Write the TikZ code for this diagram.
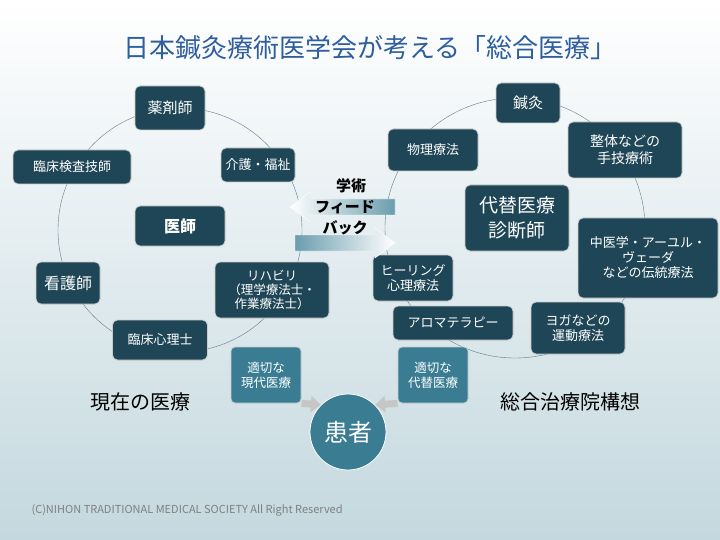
\documentclass[tikz,border=0pt]{standalone}
\usepackage{fontspec}
\setmainfont{Noto Sans CJK JP}
\usetikzlibrary{arrows.meta}
\definecolor{boxdark}{HTML}{1F4656}
\definecolor{boxlight}{HTML}{3A7D93}
\definecolor{titleblue}{HTML}{2E5E9E}
\tikzset{>=Latex}
\tikzstyle{item}=[rectangle,draw=gray!40,fill=boxdark,thick,text=white,rounded corners=5pt,align=center,font=\fontsize{13}{15}\selectfont,inner sep=2pt]
\tikzstyle{proper}=[rectangle,draw=gray!40,fill=boxlight,thick,text=white,rounded corners=4pt,align=center,font=\fontsize{12.5}{15}\selectfont,inner sep=2pt]
\tikzstyle{feedtext}=[font=\fontsize{15}{17}\selectfont\bfseries]

\begin{document}
\begin{tikzpicture}[x=1pt,y=-1pt]
	\useasboundingbox (0,0) rectangle (720,540);
	\shade[top color=white,bottom color=boxlight!30] (0,0) rectangle (720,540);
	
	\node[text=titleblue,font=\fontsize{26}{30}\selectfont] (title) at (370,48) {日本鍼灸療術医学会が考える「総合医療」};
	
	% the two rings
	\draw[boxdark!70,thin] (180,230) circle (122);
	\draw[boxdark!70,thin] (515,228) circle (130);
	
	% current medicine
	\node[item,minimum width=70pt,minimum height=44pt,font=\fontsize{15}{17}\selectfont] (yaku) at (170,108) {薬剤師};
	\node[item,minimum width=118pt,minimum height=34pt] (kensa) at (72,167) {臨床検査技師};
	\node[item,minimum width=74pt,minimum height=34pt] (kaigo) at (258,165) {介護・福祉};
	\node[item,minimum width=90pt,minimum height=40pt,font=\fontsize{16}{18}\selectfont\bfseries] (ishi) at (180,226) {医師};
	\node[item,minimum width=64pt,minimum height=42pt,font=\fontsize{16}{18}\selectfont] (kango) at (68,283) {看護師};
	\node[item,minimum width=114pt,minimum height=56pt,font=\fontsize{12.5}{14}\selectfont] (riha) at (272,290) {リハビリ\\（理学療法士・\\作業療法士）};
	\node[item,minimum width=95pt,minimum height=40pt] (shinri) at (160,340) {臨床心理士};
	
	% alternative medicine
	\node[item,minimum width=64pt,minimum height=40pt,font=\fontsize{15}{17}\selectfont] (shinkyu) at (528,103) {鍼灸};
	\node[item,minimum width=90pt,minimum height=42pt] (butsuri) at (433,150) {物理療法};
	\node[item,minimum width=114pt,minimum height=56pt,font=\fontsize{14}{17}\selectfont] (seitai) at (625,150) {整体などの\\手技療術};
	\node[item,minimum width=104pt,minimum height=66pt,font=\fontsize{19}{25}\selectfont] (daitai) at (517,218) {代替医療\\診断師};
	\node[item,minimum width=140pt,minimum height=80pt] (chui) at (648,258) {中医学・アーユル・\\ヴェーダ\\などの伝統療法};
	\node[item,minimum width=80pt,minimum height=46pt] (heal) at (413,278) {ヒーリング\\心理療法};
	\node[item,minimum width=120pt,minimum height=34pt] (aroma) at (453,323) {アロマテラピー};
	\node[item,minimum width=94pt,minimum height=52pt] (yoga) at (578,328) {ヨガなどの\\運動療法};
	
	% feedback arrows
	\shade[left color=white,right color=boxlight!75,draw=white] (290,207) -- (310,192) -- (310,199) -- (395,199) -- (395,215) -- (310,215) -- (310,222) -- cycle;
	\shade[left color=boxlight!75,right color=white,draw=white] (395,243) -- (375,228) -- (375,235) -- (295,235) -- (295,251) -- (375,251) -- (375,258) -- cycle;
	\node[feedtext] (gaku) at (351,186) {学術};
	\node[feedtext] (fido) at (345,207) {フィード};
	\node[feedtext] (bakku) at (345,228) {バック};
	
	% patient
	\node[circle,draw=white,thick,fill=boxlight,text=white,minimum size=76pt,font=\fontsize{24}{28}\selectfont] (kanja) at (348,432) {患者};
	\node[proper,minimum width=70pt,minimum height=56pt] (gendai) at (266,375) {適切な\\現代医療};
	\node[proper,minimum width=70pt,minimum height=56pt] (alt) at (433,375) {適切な\\代替医療};
	\draw[-{Triangle[width=16pt,length=10pt]},line width=7pt,gray!45] (gendai.south east) -- (kanja.north west);
	\draw[-{Triangle[width=16pt,length=10pt]},line width=7pt,gray!45] (alt.south west) -- (kanja.north east);
	
	\node[font=\fontsize{20}{22}\selectfont] (genzai) at (140,402) {現在の医療};
	\node[font=\fontsize{20}{22}\selectfont] (sogo) at (570,402) {総合治療院構想};
	\node[text=gray,font=\fontsize{11}{13}\selectfont,anchor=west] (copy) at (28,510) {(C)NIHON TRADITIONAL MEDICAL SOCIETY All Right Reserved};
\end{tikzpicture}
\end{document}
